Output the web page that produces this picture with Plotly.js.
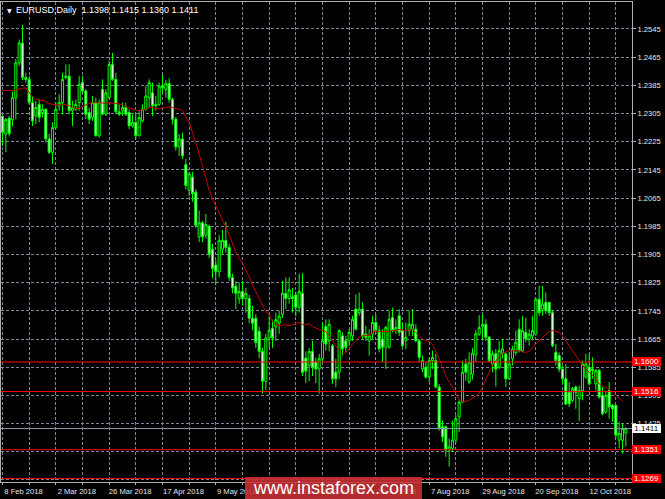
<!DOCTYPE html>
<html><head><meta charset="utf-8">
<script src="https://cdn.plot.ly/plotly-3.0.1.min.js"></script>
<style>html,body{margin:0;padding:0;background:#000;overflow:hidden}#chart{width:665px;height:499px}</style>
</head><body><div id="chart"></div>
<script>
const symbol = 'EURUSD,Daily';
const openP = [
1.2297,1.2246,1.2292,1.2288,1.2350,1.2449,1.2505,1.2407,1.2402,1.2336,
1.2298,1.2331,1.2308,1.2317,1.2233,1.2195,1.2265,1.2327,1.2336,1.2407,
1.2411,1.2313,1.2317,1.2336,1.2393,1.2369,1.2308,1.2294,1.2336,1.2242,
1.2374,1.2303,1.2350,1.2444,1.2402,1.2310,1.2313,1.2322,1.2308,1.2270,
1.2280,1.2242,1.2284,1.2317,1.2350,1.2364,1.2327,1.2331,1.2383,1.2374,
1.2390,1.2345,1.2289,1.2210,1.2233,1.2160,1.2087,1.2125,1.2082,1.1955,
1.1995,1.1960,1.1985,1.1920,1.1875,1.1856,1.1920,1.1945,1.1925,1.1840,
1.1815,1.1780,1.1800,1.1780,1.1780,1.1724,1.1724,1.1687,1.1630,1.1545,
1.1668,1.1695,1.1700,1.1710,1.1735,1.1795,1.1780,1.1785,1.1790,1.1755,
1.1795,1.1611,1.1590,1.1630,1.1600,1.1580,1.1609,1.1700,1.1660,1.1646,
1.1571,1.1571,1.1674,1.1660,1.1660,1.1674,1.1750,1.1740,1.1750,1.1679,
1.1660,1.1679,1.1712,1.1689,1.1665,1.1642,1.1642,1.1726,1.1689,1.1731,
1.1689,1.1660,1.1689,1.1693,1.1693,1.1660,1.1580,1.1585,1.1557,1.1604,
1.1604,1.1529,1.1416,1.1416,1.1350,1.1355,1.1378,1.1444,1.1486,1.1594,
1.1543,1.1565,1.1620,1.1679,1.1700,1.1707,1.1670,1.1594,1.1623,1.1585,
1.1625,1.1623,1.1552,1.1609,1.1627,1.1693,1.1632,1.1684,1.1665,1.1674,
1.1679,1.1778,1.1750,1.1769,1.1769,1.1740,1.1627,1.1618,1.1580,1.1552,
1.1514,1.1491,1.1529,1.1496,1.1519,1.1557,1.1585,1.1580,1.1538,1.1576,
1.1505,1.1458,1.1519,1.1477,1.1477,1.1378,1.1378,1.1398];
const highP = [
1.2300,1.2292,1.2298,1.2368,1.2460,1.2515,1.2556,1.2421,1.2411,1.2355,
1.2341,1.2345,1.2331,1.2320,1.2247,1.2280,1.2336,1.2360,1.2421,1.2444,
1.2444,1.2341,1.2345,1.2411,1.2411,1.2374,1.2322,1.2355,1.2350,1.2345,
1.2402,1.2374,1.2455,1.2477,1.2421,1.2331,1.2336,1.2336,1.2317,1.2303,
1.2303,1.2313,1.2331,1.2383,1.2402,1.2393,1.2355,1.2393,1.2415,1.2400,
1.2405,1.2350,1.2295,1.2247,1.2251,1.2176,1.2140,1.2140,1.2090,1.2030,
1.2000,1.2020,1.1990,1.1935,1.1890,1.1960,1.1975,1.1998,1.1935,1.1850,
1.1830,1.1825,1.1830,1.1810,1.1790,1.1760,1.1735,1.1700,1.1640,1.1680,
1.1730,1.1720,1.1740,1.1745,1.1830,1.1840,1.1840,1.1810,1.1800,1.1850,
1.1852,1.1630,1.1640,1.1660,1.1612,1.1623,1.1712,1.1721,1.1721,1.1651,
1.1609,1.1693,1.1684,1.1674,1.1693,1.1731,1.1792,1.1797,1.1769,1.1703,
1.1693,1.1731,1.1736,1.1703,1.1693,1.1703,1.1745,1.1754,1.1721,1.1750,
1.1712,1.1712,1.1745,1.1750,1.1707,1.1665,1.1618,1.1599,1.1613,1.1632,
1.1623,1.1538,1.1434,1.1420,1.1383,1.1434,1.1449,1.1491,1.1604,1.1609,
1.1627,1.1640,1.1690,1.1733,1.1735,1.1721,1.1674,1.1632,1.1637,1.1660,
1.1665,1.1627,1.1627,1.1646,1.1689,1.1721,1.1731,1.1726,1.1693,1.1731,
1.1783,1.1816,1.1816,1.1797,1.1769,1.1745,1.1651,1.1627,1.1590,1.1594,
1.1543,1.1529,1.1533,1.1533,1.1604,1.1623,1.1623,1.1613,1.1580,1.1580,
1.1529,1.1519,1.1543,1.1481,1.1477,1.1430,1.1425,1.1415];
const lowP = [
1.2213,1.2195,1.2240,1.2269,1.2288,1.2440,1.2400,1.2393,1.2331,1.2270,
1.2275,1.2280,1.2294,1.2223,1.2190,1.2162,1.2260,1.2313,1.2303,1.2402,
1.2303,1.2270,1.2313,1.2313,1.2364,1.2289,1.2275,1.2284,1.2240,1.2237,
1.2300,1.2298,1.2345,1.2398,1.2303,1.2298,1.2298,1.2298,1.2261,1.2265,
1.2233,1.2240,1.2280,1.2313,1.2322,1.2298,1.2313,1.2327,1.2364,1.2350,
1.2336,1.2274,1.2200,1.2185,1.2176,1.2090,1.2070,1.2055,1.1980,1.1940,
1.1940,1.1950,1.1895,1.1838,1.1820,1.1840,1.1905,1.1910,1.1830,1.1795,
1.1750,1.1765,1.1760,1.1740,1.1710,1.1690,1.1640,1.1610,1.1510,1.1520,
1.1640,1.1640,1.1660,1.1680,1.1725,1.1750,1.1765,1.1740,1.1730,1.1740,
1.1560,1.1540,1.1545,1.1560,1.1540,1.1510,1.1600,1.1632,1.1630,1.1538,
1.1529,1.1552,1.1618,1.1627,1.1646,1.1660,1.1689,1.1731,1.1665,1.1660,
1.1618,1.1665,1.1679,1.1627,1.1600,1.1580,1.1637,1.1684,1.1679,1.1674,
1.1642,1.1637,1.1674,1.1674,1.1656,1.1599,1.1571,1.1552,1.1543,1.1580,
1.1525,1.1405,1.1373,1.1331,1.1303,1.1345,1.1369,1.1402,1.1486,1.1547,
1.1538,1.1550,1.1600,1.1674,1.1660,1.1660,1.1599,1.1571,1.1530,1.1580,
1.1610,1.1529,1.1552,1.1590,1.1618,1.1627,1.1627,1.1656,1.1646,1.1665,
1.1674,1.1731,1.1731,1.1736,1.1731,1.1642,1.1590,1.1571,1.1538,1.1477,
1.1472,1.1486,1.1467,1.1432,1.1491,1.1552,1.1533,1.1552,1.1519,1.1496,
1.1449,1.1453,1.1439,1.1430,1.1383,1.1355,1.1340,1.1360];
const closeP = [
1.2251,1.2288,1.2248,1.2350,1.2449,1.2505,1.2407,1.2402,1.2336,1.2284,
1.2322,1.2294,1.2317,1.2233,1.2195,1.2265,1.2317,1.2336,1.2402,1.2411,
1.2313,1.2322,1.2331,1.2388,1.2369,1.2303,1.2289,1.2336,1.2242,1.2336,
1.2303,1.2364,1.2444,1.2402,1.2310,1.2303,1.2322,1.2303,1.2270,1.2280,
1.2242,1.2294,1.2317,1.2355,1.2393,1.2327,1.2331,1.2383,1.2378,1.2390,
1.2345,1.2289,1.2210,1.2233,1.2185,1.2101,1.2134,1.2078,1.1988,1.1995,
1.1955,1.1990,1.1905,1.1865,1.1856,1.1945,1.1945,1.1925,1.1840,1.1810,
1.1795,1.1800,1.1780,1.1795,1.1724,1.1710,1.1655,1.1630,1.1545,1.1668,
1.1690,1.1668,1.1720,1.1730,1.1795,1.1780,1.1805,1.1780,1.1755,1.1800,
1.1570,1.1574,1.1630,1.1585,1.1580,1.1609,1.1660,1.1651,1.1707,1.1552,
1.1552,1.1689,1.1637,1.1642,1.1684,1.1721,1.1693,1.1750,1.1674,1.1670,
1.1674,1.1712,1.1689,1.1637,1.1642,1.1698,1.1721,1.1689,1.1698,1.1684,
1.1646,1.1670,1.1707,1.1707,1.1660,1.1613,1.1604,1.1557,1.1604,1.1613,
1.1529,1.1411,1.1387,1.1350,1.1359,1.1378,1.1439,1.1486,1.1571,1.1571,
1.1599,1.1625,1.1680,1.1698,1.1707,1.1670,1.1604,1.1623,1.1580,1.1632,
1.1637,1.1552,1.1594,1.1637,1.1656,1.1632,1.1689,1.1665,1.1679,1.1689,
1.1778,1.1740,1.1764,1.1745,1.1740,1.1646,1.1604,1.1580,1.1552,1.1481,
1.1481,1.1524,1.1514,1.1519,1.1594,1.1594,1.1538,1.1576,1.1576,1.1500,
1.1453,1.1505,1.1472,1.1467,1.1392,1.1397,1.1411,1.1411];
const maValues = [
1.2371,1.2370,1.2370,1.2370,1.2372,1.2375,1.2377,1.2378,1.2365,1.2352,
1.2346,1.2344,1.2343,1.2340,1.2333,1.2331,1.2330,1.2330,1.2331,1.2330,
1.2327,1.2322,1.2319,1.2320,1.2325,1.2331,1.2334,1.2336,1.2336,1.2336,
1.2336,1.2335,1.2335,1.2335,1.2334,1.2332,1.2330,1.2325,1.2320,1.2317,
1.2315,1.2313,1.2315,1.2317,1.2322,1.2322,1.2318,1.2318,1.2320,1.2322,
1.2324,1.2322,1.2320,1.2317,1.2313,1.2298,1.2280,1.2251,1.2223,1.2190,
1.2157,1.2120,1.2087,1.2063,1.2044,1.2021,1.2002,1.1983,1.1960,1.1936,
1.1913,1.1894,1.1880,1.1861,1.1842,1.1818,1.1800,1.1781,1.1762,1.1743,
1.1734,1.1715,1.1706,1.1703,1.1704,1.1706,1.1703,1.1706,1.1707,1.1712,
1.1706,1.1706,1.1709,1.1701,1.1696,1.1693,1.1689,1.1686,1.1674,1.1660,
1.1646,1.1632,1.1623,1.1627,1.1637,1.1651,1.1660,1.1670,1.1674,1.1674,
1.1676,1.1684,1.1689,1.1686,1.1686,1.1684,1.1686,1.1689,1.1689,1.1692,
1.1691,1.1689,1.1691,1.1691,1.1684,1.1674,1.1665,1.1660,1.1658,1.1651,
1.1632,1.1609,1.1585,1.1561,1.1543,1.1529,1.1510,1.1493,1.1488,1.1488,
1.1491,1.1497,1.1503,1.1510,1.1529,1.1552,1.1571,1.1590,1.1604,1.1616,
1.1623,1.1629,1.1632,1.1632,1.1632,1.1632,1.1629,1.1627,1.1630,1.1642,
1.1651,1.1660,1.1670,1.1679,1.1686,1.1689,1.1687,1.1684,1.1674,1.1660,
1.1646,1.1632,1.1618,1.1601,1.1590,1.1580,1.1571,1.1563,1.1552,1.1538,
1.1533,1.1526,1.1522,1.1514,1.1505,1.1497,1.1489];
const gridIndex = [0,8,16,24,32,40,48,56,64,72,80,88,96,104,112,120,128,136,144,152,160,168,176,184];
const gridText = ['8 Feb 2018','','2 Mar 2018','','26 Mar 2018','','17 Apr 2018','','9 May 2018','','31 May 2018','','22 Jun 2018','','16 Jul 2018','','7 Aug 2018','','29 Aug 2018','','20 Sep 2018','','12 Oct 2018',''];
const redLevels = [1.1600, 1.1516, 1.1351, 1.1269];
const watermarkText = 'www.instaforex.com';

const FONT = 'Liberation Sans, Arial, sans-serif';
const idx = openP.map((_, i) => i);
const maIdx = maValues.map((_, i) => i);
const n = closeP.length - 1;
const lastClose = closeP[n];
const f4 = v => v.toFixed(4);

const candles = {
  type: 'candlestick', x: idx, open: openP, high: highP, low: lowP, close: closeP,
  increasing: {line: {color: '#00ff00', width: 1}, fillcolor: '#000000'},
  decreasing: {line: {color: '#00ff00', width: 1}, fillcolor: '#ccffcc'},
  whiskerwidth: 0, hoverinfo: 'skip'
};
const ma = {
  type: 'scatter', mode: 'lines', x: maIdx, y: maValues,
  line: {color: '#c80000', width: 1}, hoverinfo: 'skip'
};

const shapes = [];
redLevels.forEach(l => shapes.push({type: 'line', xref: 'paper', x0: 0, x1: 1, yref: 'y', y0: l, y1: l,
  line: {color: '#ff0000', width: 1}, layer: 'above'}));
shapes.push({type: 'line', xref: 'paper', x0: 0, x1: 1, yref: 'y', y0: lastClose, y1: lastClose,
  line: {color: '#8a96a8', width: 1}, layer: 'above'});
shapes.push({type: 'rect', xref: 'paper', yref: 'paper', x0: 0.3867, x1: 0.6672, y0: -0.036, y1: 0.0104,
  fillcolor: 'rgb(200,48,52)', opacity: 0.88, line: {width: 0}, layer: 'above'});

const annotations = [];
redLevels.forEach(l => annotations.push({xref: 'paper', x: 1, xanchor: 'left', yref: 'y', y: l, yanchor: 'middle',
  text: f4(l), showarrow: false, bgcolor: '#ff0000', width: 29, height: 9, borderpad: 0, borderwidth: 0,
  font: {family: FONT, size: 8, color: '#ffffff'}}));
annotations.push({xref: 'paper', x: 1, xanchor: 'left', yref: 'y', y: lastClose, yanchor: 'middle',
  text: f4(lastClose), showarrow: false, bgcolor: '#ffffff', width: 29, height: 9, borderpad: 0, borderwidth: 0,
  font: {family: FONT, size: 8, color: '#000000'}});
annotations.push({xref: 'paper', x: 0, xanchor: 'left', xshift: 4, yref: 'paper', y: 1, yanchor: 'top', yshift: -3,
  text: '▼', showarrow: false, font: {family: 'DejaVu Sans', size: 6, color: '#ffffff'}});
annotations.push({xref: 'paper', x: 0, xanchor: 'left', xshift: 13, yref: 'paper', y: 1, yanchor: 'top', yshift: -1,
  text: symbol + '  ' + [openP[n], highP[n], lowP[n], closeP[n]].map(f4).join(' '),
  showarrow: false, font: {family: FONT, size: 9, color: '#ffffff'}});
annotations.push({xref: 'paper', x: 0.527, xanchor: 'center', yref: 'paper', y: -0.0125, yanchor: 'middle',
  text: watermarkText, showarrow: false, font: {family: FONT, size: 18, color: '#ffffff'}});

const axisFont = {family: FONT, size: 7.6, color: '#e6e6e6'};
const layout = {
  width: 665, height: 499,
  margin: {l: 1, r: 33, t: 2, b: 17, pad: 0},
  paper_bgcolor: '#000000', plot_bgcolor: '#000000',
  showlegend: false, hovermode: false, boxgap: 0.1,
  xaxis: {
    range: [-0.45, 188.85], rangeslider: {visible: false}, fixedrange: true,
    tickmode: 'array', tickvals: gridIndex, ticktext: gridText,
    showgrid: true, gridcolor: '#778899', gridwidth: 1, griddash: '3px,2px',
    ticks: 'outside', ticklen: 2, tickcolor: '#b0b0b0', tickfont: axisFont, ticklabelshift: 21,
    showline: true, linecolor: '#b0b0b0', linewidth: 1, mirror: true, zeroline: false
  },
  yaxis: {
    side: 'right', range: [1.12593, 1.26216], fixedrange: true,
    tick0: 1.1265, dtick: 0.008, tickformat: '.4f',
    showgrid: true, gridcolor: '#778899', gridwidth: 1, griddash: '3px,2px',
    ticks: 'outside', ticklen: 3, tickcolor: '#b0b0b0', tickfont: axisFont,
    showline: true, linecolor: '#b0b0b0', linewidth: 1, mirror: true, zeroline: false
  },
  shapes: shapes, annotations: annotations
};
Plotly.newPlot('chart', [candles, ma], layout, {staticPlot: true, displayModeBar: false});
</script>
</body></html>
